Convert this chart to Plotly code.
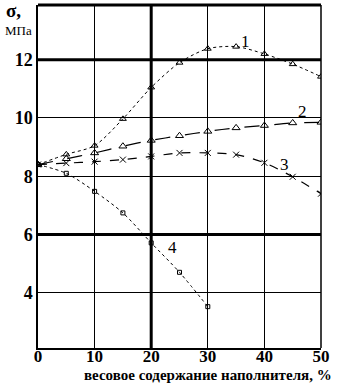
import plotly.graph_objects as go

x_vals = [0, 5, 10, 15, 20, 25, 30, 35, 40, 45, 50]
x4_vals = [0, 5, 10, 15, 20, 25, 30]
curve1 = [8.4, 8.75, 9.05, 9.97, 11.05, 11.9, 12.38, 12.45, 12.2, 11.85, 11.42]
curve2 = [8.4, 8.6, 8.8, 9.03, 9.23, 9.39, 9.54, 9.66, 9.74, 9.83, 9.85]
curve3 = [8.4, 8.45, 8.5, 8.57, 8.68, 8.8, 8.8, 8.74, 8.46, 7.98, 7.4]
curve4 = [8.4, 8.1, 7.48, 6.74, 5.71, 4.7, 3.52]
x_ticks = [0, 10, 20, 30, 40, 50]
y_ticks = [4, 6, 8, 10, 12]
curve_names = ["1", "2", "3", "4"]

FONT = "Liberation Serif"

fig = go.Figure()
fig.add_trace(go.Scatter(x=x_vals, y=curve1, mode="lines+markers", name=curve_names[0],
                         line=dict(color="black", width=1, dash="dot", shape="spline", smoothing=0.8),
                         marker=dict(symbol="triangle-up-open", size=6, color="black", line=dict(width=1))))
fig.add_trace(go.Scatter(x=x_vals, y=curve2, mode="lines+markers", name=curve_names[1],
                         line=dict(color="black", width=1.2, dash="longdash", shape="spline", smoothing=0.8),
                         marker=dict(symbol="triangle-up-open", size=7, color="black", line=dict(width=1))))
fig.add_trace(go.Scatter(x=x_vals, y=curve3, mode="lines+markers", name=curve_names[2],
                         line=dict(color="black", width=1.2, dash="dash", shape="spline", smoothing=0.8),
                         marker=dict(symbol="x-thin-open", size=6, color="black", line=dict(width=1, color="black"))))
fig.add_trace(go.Scatter(x=x4_vals, y=curve4, mode="lines+markers", name=curve_names[3],
                         line=dict(color="black", width=1, dash="dot", shape="spline", smoothing=0.8),
                         marker=dict(symbol="square-open", size=4, color="black", line=dict(width=1))))

# thick grid lines
for yv in [12, 6]:
    fig.add_shape(type="line", xref="x", yref="y", x0=0, x1=50, y0=yv, y1=yv,
                  line=dict(color="black", width=3), layer="below")
fig.add_shape(type="line", xref="x", yref="paper", x0=20, x1=20, y0=0, y1=1,
              line=dict(color="black", width=3), layer="below")
# top thick border
fig.add_shape(type="line", xref="paper", yref="paper", x0=0, x1=1, y0=1, y1=1,
              line=dict(color="black", width=3))
# right border thin
fig.add_shape(type="line", xref="paper", yref="paper", x0=1, x1=1, y0=0, y1=1,
              line=dict(color="black", width=1.5))

# curve labels
label_pos = [(36.6, 12.63), (46.7, 10.23), (43.5, 8.4), (23.7, 5.55)]
for name, (lx, ly) in zip(curve_names, label_pos):
    fig.add_annotation(x=lx, y=ly, text=name, showarrow=False,
                       font=dict(family=FONT, size=17, color="black"))

# y title
fig.add_annotation(xref="paper", yref="paper", x=-0.085, y=0.985, text="<b>σ,</b>", showarrow=False,
                   xanchor="center", yanchor="middle", font=dict(family=FONT, size=19, color="black"))
fig.add_annotation(xref="paper", yref="paper", x=-0.068, y=0.925, text="МПа", showarrow=False,
                   xanchor="center", yanchor="middle", font=dict(family=FONT, size=13, color="black"))
# x title
fig.add_annotation(xref="paper", yref="paper", x=0.6, y=-0.078, text="<b>весовое содержание наполнителя, %</b>",
                   showarrow=False, xanchor="center", yanchor="middle",
                   font=dict(family=FONT, size=15, color="black"))

fig.update_xaxes(range=[0, 50], tickvals=x_ticks, ticktext=["<b>%d</b>" % v for v in x_ticks],
                 showgrid=True, gridcolor="black", gridwidth=1,
                 showline=True, linecolor="black", linewidth=1.5, zeroline=False,
                 ticks="", ticklabelstandoff=-8, automargin=False,
                 tickfont=dict(family=FONT, size=17, color="black"))
fig.update_yaxes(range=[2.1, 13.88], tickvals=y_ticks, ticktext=["<b>%d</b>" % v for v in y_ticks],
                 showgrid=True, gridcolor="black", gridwidth=1,
                 showline=True, linecolor="black", linewidth=1.5, zeroline=False,
                 ticks="", ticklabelstandoff=0, automargin=False,
                 tickfont=dict(family=FONT, size=18, color="black"))

fig.update_layout(width=345, height=383, margin=dict(l=38, r=24, t=5, b=35),
                  plot_bgcolor="white", paper_bgcolor="white", showlegend=False)

fig.write_html("out.html", post_script="document.body.style.margin='0';",
               config={"displayModeBar": False})
